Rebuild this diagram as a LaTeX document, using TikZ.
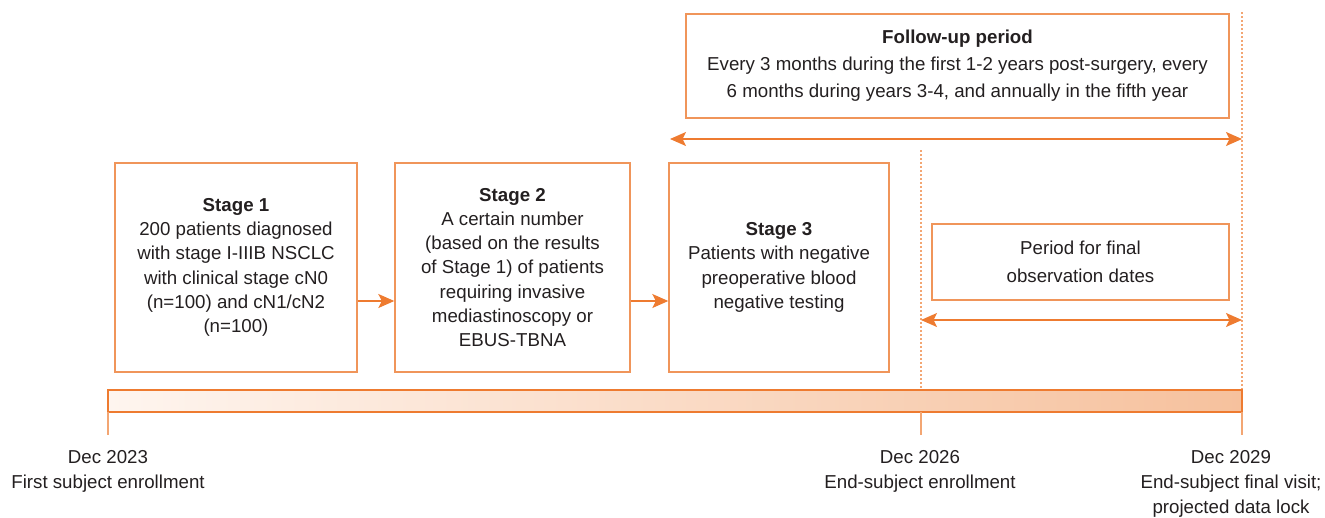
\documentclass[tikz,border=0pt]{standalone}
\usepackage{fontspec}
\setmainfont{Liberation Sans}
\usetikzlibrary{arrows.meta}
\definecolor{boxor}{HTML}{F0955A}
\definecolor{arror}{HTML}{EE7B30}
\definecolor{dotor}{HTML}{F3A673}
\definecolor{barl}{HTML}{FEF5EF}
\definecolor{barr}{HTML}{F6C19D}
\definecolor{txt}{HTML}{231F20}
\tikzset{
  stagebox/.style={draw=boxor, line width=1.4pt, rectangle, inner sep=0pt, align=center, text=txt,
    font=\fontsize{18.7}{24.2}\selectfont},
  arr/.style={draw=arror, line width=1.4pt, -{Stealth[length=16pt,width=14pt,inset=3.5pt]}},
  darr/.style={draw=arror, line width=1.4pt, {Stealth[length=16pt,width=14pt,inset=3.5pt]}-{Stealth[length=16pt,width=14pt,inset=3.5pt]}},
  dotln/.style={draw=dotor, line width=1.8pt, dash pattern=on 1.8pt off 2.2pt},
  tickln/.style={draw=dotor, line width=1.6pt},
  lbl/.style={align=center, text=txt, inner sep=0pt, font=\fontsize{18.7}{25}\selectfont},
}
\begin{document}
\begin{tikzpicture}[x=1pt,y=-1pt]
\useasboundingbox (0,0) rectangle (1325,517);
% timeline bar
\shade[left color=barl, right color=barr] (108,390) rectangle (1242,412);
\draw[draw=arror, line width=1.4pt] (108,390) rectangle (1242,412);
\coordinate (b0) at (108,412);
\coordinate (b1) at (921,412);
\coordinate (b2) at (1242,412);
\coordinate (t0) at (108,435);
\coordinate (t1) at (921,435);
\coordinate (t2) at (1242,435);
\draw[tickln] (b0) -- (t0);
\draw[tickln] (b1) -- (t1);
\draw[tickln] (b2) -- (t2);
% dotted verticals
\coordinate (d1top) at (921,150);
\coordinate (d1bot) at (921,389);
\coordinate (d2top) at (1242,12);
\coordinate (d2bot) at (1242,389);
\draw[dotln] (d1top) -- (d1bot);
\draw[dotln] (d2top) -- (d2bot);
% boxes
\node[stagebox, minimum width=242pt, minimum height=209pt] (s1) at (236,267.5)
  {\textbf{Stage 1}\\200 patients diagnosed\\with stage I-IIIB NSCLC\\with clinical stage cN0\\(n=100) and cN1/cN2\\(n=100)};
\node[stagebox, minimum width=235pt, minimum height=209pt] (s2) at (512.5,267.5)
  {\textbf{Stage 2}\\A certain number\\(based on the results\\of Stage 1) of patients\\requiring invasive\\mediastinoscopy or\\EBUS-TBNA};
\node[stagebox, minimum width=220pt, minimum height=209pt] (s3) at (779,267.5)
  {\textbf{Stage 3}\\Patients with negative\\preoperative blood\\negative testing};
\node[stagebox, minimum width=543pt, minimum height=104pt, font=\fontsize{18.7}{27}\selectfont] (fu) at (957.5,66)
  {\textbf{Follow-up period}\\Every 3 months during the first 1-2 years post-surgery, every\\6 months during years 3-4, and annually in the fifth year};
\node[stagebox, minimum width=297pt, minimum height=76pt, font=\fontsize{18.7}{28}\selectfont] (pf) at (1080.5,262)
  {Period for final\\observation dates};
% arrows
\coordinate (a1s) at (357,301);
\coordinate (a1e) at (395,301);
\draw[arr] (s1.east |- a1s) -- (s2.west |- a1e);
\draw[arr] (s2.east |- a1s) -- (s3.west |- a1e);
\coordinate (fl) at (670,139);
\coordinate (fr) at (1242,139);
\draw[darr] (fl) -- (fr);
\coordinate (pl) at (921,320);
\coordinate (pr) at (1242,320);
\draw[darr] (pl) -- (pr);
% labels
\node[lbl, anchor=north] (l0) at (108,450) {Dec 2023\\First subject enrollment};
\node[lbl, anchor=north] (l1) at (920,450) {Dec 2026\\End-subject enrollment};
\node[lbl, anchor=north] (l2) at (1231,450) {Dec 2029\\End-subject final visit;\\projected data lock};
\end{tikzpicture}
\end{document}
